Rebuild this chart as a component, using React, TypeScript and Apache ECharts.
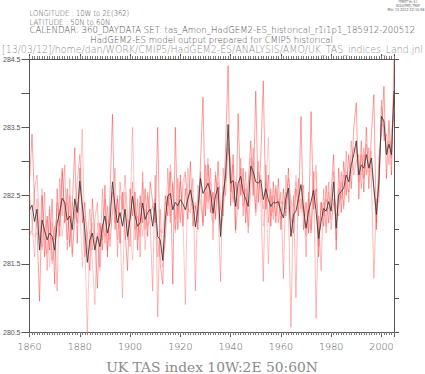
import React, { useEffect, useRef } from "react";
import * as echarts from "echarts";

const START_YEAR = 1860;
const END_YEAR = 2005;

const ensembleMean = [
  282.29, 282.36, 282.12, 282.30, 281.70, 282.14, 281.99, 281.85, 281.95, 281.90,
  281.70, 282.10, 282.25, 282.46, 282.40, 282.14, 282.20, 282.00, 282.45, 282.25,
  282.71, 282.35, 282.00, 281.52, 281.85, 281.95, 281.70, 281.90, 281.75, 282.05,
  282.20, 281.95, 282.10, 282.70, 282.34, 282.10, 282.25, 282.05, 282.30, 281.90,
  282.15, 282.49, 282.20, 282.05, 282.10, 282.39, 282.15, 282.25, 282.30, 282.05,
  282.39, 281.90, 281.85, 281.55, 282.14, 282.49, 282.53, 282.29, 282.40, 282.35,
  282.44, 282.38, 282.29, 282.45, 282.58, 282.38, 282.04, 282.30, 282.75, 282.53,
  282.60, 282.68, 282.55, 282.24, 282.50, 282.62, 281.90, 282.48, 282.80, 283.54,
  282.68, 282.72, 282.34, 282.68, 282.78, 282.55, 282.45, 282.34, 282.93, 282.85,
  282.70, 282.68, 282.73, 282.44, 282.60, 282.44, 282.34, 282.40, 282.39, 282.41,
  282.27, 282.17, 282.46, 282.61, 281.90, 282.22, 282.27, 282.46, 282.66, 282.31,
  282.02, 282.27, 282.41, 282.58, 282.27, 281.87, 282.12, 282.31, 282.27, 282.41,
  282.27, 282.70, 282.02, 282.51, 282.56, 282.61, 282.80, 282.70, 282.95, 283.10,
  283.30, 282.80, 282.95, 282.90, 283.10, 282.90, 283.05, 282.61, 282.22, 282.70,
  283.66, 283.59, 283.10, 283.25, 283.10, 284.03,
];

const memberR1 = [
  282.70, 283.40, 282.40, 282.00, 280.95, 282.50, 281.60, 282.20, 281.70, 282.45,
  281.20, 282.60, 281.90, 282.90, 282.10, 282.60, 281.75, 282.35, 283.20, 281.80,
  282.90, 282.10, 282.40, 281.75, 281.40, 282.45, 281.90, 281.14, 282.10, 281.70,
  282.65, 281.60, 282.50, 283.69, 282.00, 282.45, 281.80, 282.55, 282.00, 281.40,
  282.60, 282.20, 282.55, 281.70, 282.50, 282.10, 282.60, 281.90, 282.70, 282.40,
  282.10, 283.50, 281.50, 281.20, 282.50, 282.20, 282.85, 281.20, 283.50, 282.00,
  282.80, 282.05, 282.60, 282.15, 283.00, 282.05, 282.35, 282.00, 282.95, 283.94,
  282.20, 282.95, 282.25, 282.55, 282.15, 283.00, 282.30, 282.20, 283.20, 284.40,
  282.35, 283.10, 282.00, 283.70, 282.50, 282.90, 282.10, 282.65, 283.30, 282.50,
  284.03, 282.40, 283.05, 284.18, 282.30, 282.80, 282.05, 282.70, 282.10, 282.75,
  282.00, 282.60, 282.20, 282.90, 282.20, 281.95, 282.60, 282.20, 283.66, 282.00,
  282.40, 281.95, 283.73, 282.30, 282.60, 281.60, 282.40, 282.05, 282.65, 282.10,
  282.55, 283.10, 281.70, 282.90, 282.25, 283.00, 282.50, 283.10, 282.60, 283.50,
  283.86, 282.45, 283.30, 282.55, 283.50, 282.60, 283.40, 283.98, 282.00, 283.05,
  283.40, 284.10, 282.75, 283.60, 282.80, 284.50,
];

const memberR2 = [
  281.90, 282.00, 282.60, 282.80, 282.10, 281.75, 282.55, 281.40, 282.30, 281.55,
  282.05, 281.10, 282.75, 282.20, 282.95, 281.70, 282.50, 281.60, 282.15, 282.70,
  283.10, 282.40, 281.60, 281.90, 282.30, 281.70, 282.15, 282.40, 281.45, 282.60,
  281.80, 282.35, 281.75, 282.30, 282.90, 281.60, 282.70, 282.30, 282.80, 282.20,
  281.75, 282.70, 281.85, 282.45, 281.60, 282.85, 282.00, 282.55, 282.10, 281.10,
  282.80, 280.72, 282.30, 281.60, 281.80, 282.90, 282.10, 282.70, 282.00, 282.75,
  282.10, 282.70, 282.85, 282.30, 282.25, 282.75, 281.10, 282.65, 282.40, 282.10,
  282.95, 282.40, 282.90, 281.85, 282.80, 282.35, 281.24, 282.90, 282.50, 283.20,
  283.00, 282.40, 282.70, 282.30, 283.05, 282.20, 282.85, 281.95, 282.60, 283.20,
  282.30, 283.00, 282.45, 281.24, 282.95, 282.10, 282.60, 282.15, 282.65, 282.10,
  282.55, 281.28, 282.80, 282.35, 280.57, 282.50, 281.00, 282.75, 282.30, 282.65,
  281.60, 282.55, 282.00, 282.85, 280.70, 282.20, 281.40, 282.60, 281.95, 282.70,
  282.00, 282.45, 282.35, 282.20, 282.85, 282.30, 283.15, 282.40, 283.30, 282.80,
  283.00, 283.10, 282.60, 283.20, 282.80, 283.20, 282.75, 281.29, 282.45, 282.40,
  283.90, 283.30, 283.40, 282.95, 283.45, 283.70,
];

const memberR3 = [
  282.55, 282.10, 281.60, 282.45, 281.85, 282.60, 281.80, 281.65, 282.35, 281.50,
  281.70, 282.40, 282.05, 282.85, 282.30, 281.85, 282.75, 281.65, 282.30, 282.10,
  282.55, 283.47, 281.80, 280.48, 282.00, 281.55, 280.90, 282.10, 282.05, 281.85,
  282.45, 281.70, 282.30, 282.55, 282.10, 282.50, 282.00, 281.00, 282.55, 281.85,
  282.20, 283.50, 282.00, 282.20, 281.90, 282.70, 281.70, 282.50, 282.25, 282.35,
  282.45, 281.60, 282.00, 281.95, 282.40, 282.35, 282.95, 282.60, 282.15, 282.30,
  282.70, 282.20, 280.90, 282.90, 282.45, 282.30, 282.40, 282.10, 282.85, 282.05,
  282.70, 283.05, 282.35, 282.10, 282.85, 282.45, 282.05, 282.60, 282.75, 283.30,
  282.55, 282.95, 281.95, 282.40, 282.90, 282.35, 282.60, 282.05, 283.05, 282.70,
  282.25, 282.85, 282.60, 282.30, 282.70, 281.50, 282.50, 282.25, 282.60, 282.35,
  282.40, 282.40, 282.30, 282.75, 282.45, 282.10, 282.70, 282.40, 282.45, 282.25,
  281.90, 282.45, 281.95, 282.70, 282.95, 281.75, 282.40, 282.20, 282.45, 282.30,
  282.40, 282.85, 281.85, 282.60, 282.45, 282.80, 282.70, 282.55, 283.05, 283.20,
  283.15, 282.70, 283.10, 282.75, 283.25, 282.95, 282.90, 282.60, 282.10, 282.80,
  283.55, 283.50, 283.15, 283.30, 283.05, 284.10,
];

const memberR4 = [
  282.00, 281.95, 281.90, 281.95, 281.90, 281.70, 282.00, 282.15, 281.45, 282.10,
  281.85, 282.30, 282.30, 281.90, 282.25, 282.40, 281.80, 282.40, 282.15, 282.40,
  282.30, 281.45, 282.20, 281.95, 281.70, 282.10, 281.75, 281.95, 281.40, 282.05,
  281.90, 282.15, 281.85, 282.25, 282.35, 281.85, 282.50, 282.35, 281.85, 282.15,
  282.05, 281.55, 282.40, 281.85, 282.40, 281.90, 282.30, 282.05, 282.15, 282.35,
  282.20, 281.80, 281.60, 281.45, 281.85, 282.50, 282.20, 282.65, 281.95, 282.35,
  282.15, 282.55, 282.80, 282.45, 282.60, 282.40, 282.30, 282.45, 282.80, 282.05,
  282.55, 282.30, 282.70, 282.45, 282.20, 282.70, 282.00, 282.20, 282.75, 283.25,
  282.80, 282.45, 282.70, 282.30, 282.65, 282.75, 282.25, 282.70, 282.75, 283.00,
  282.20, 282.45, 282.80, 282.05, 282.45, 283.35, 282.20, 282.50, 282.20, 282.45,
  282.15, 282.40, 282.55, 282.45, 282.40, 282.35, 282.80, 282.50, 282.25, 282.35,
  282.20, 282.15, 281.95, 282.45, 282.85, 281.95, 282.30, 282.40, 282.05, 282.55,
  282.15, 282.40, 282.20, 282.35, 282.70, 282.35, 282.85, 282.75, 282.85, 282.90,
  283.20, 282.95, 282.80, 283.10, 282.85, 282.85, 283.15, 282.57, 282.35, 282.55,
  283.80, 283.45, 283.10, 283.15, 283.10, 283.80,
];

const yLabelValues = ["280.5", "281.5", "282.5", "283.5", "284.5"];
const xLabelValues = ["1860", "1880", "1900", "1920", "1940", "1960", "1980", "2000"];

const headerLines = [
  "LONGITUDE : 10W to 2E(362)",
  "LATITUDE : 50N to 60N",
  "CALENDAR: 360_DAYDATA SET: tas_Amon_HadGEM2-ES_historical_r1i1p1_185912-200512",
];
const subTitle = "HadGEM2-ES model output prepared for CMIP5 historical";
const jnlPath = "[13/03/12]/home/dan/WORK/CMIP5/HadGEM2-ES/ANALYSIS/AMO/UK_TAS_indices_Land.jnl";
const stampLines = ["FERRET Ver. 6.1", "NOAA/PMEL TMAP", "Mar 13 2012 22:10:58"];
const bottomTitle = "UK TAS index 10W:2E 50:60N";

function toPairs(vals: number[]) {
  return vals.map((v, i) => [START_YEAR + i, v]);
}

export default function App() {
  const ref = useRef<HTMLDivElement>(null);
  useEffect(() => {
    if (!ref.current) return;
    const chart = echarts.init(ref.current, null, { renderer: "svg" });
    const canvas = document.createElement("canvas");
    const ctx = canvas.getContext("2d") as CanvasRenderingContext2D;
    const measure = (t: string, size: number, fam: string, weight: string) => {
      ctx.font = `${weight} ${size}px ${fam}`;
      return ctx.measureText(t).width || 1;
    };
    const txt = (
      t: string, x: number, y: number, size: number, fam: string,
      targetW: number, fill: string, align: string = "left", weight: string = "normal"
    ) => ({
      type: "text",
      x, y,
      scaleX: targetW / measure(t, size, fam, weight),
      silent: true,
      style: {
        text: t, fontSize: size, fontFamily: fam, fill, fontWeight: weight,
        textAlign: align, textVerticalAlign: "middle",
      },
    });
    const sans = '"DejaVu Sans"';
    const head = "#4a4a4a";
    const graphics = [
      txt(headerLines[0], 29.5, 13.5, 8, sans, 100, head, "left", "200"),
      txt(headerLines[1], 29.5, 22.5, 8, sans, 81, head, "left", "200"),
      txt(headerLines[2], 29.5, 30.5, 8, sans, 386, head, "left", "200"),
      txt(subTitle, 211.5, 40, 8, sans, 243, head, "center", "200"),
      txt(jnlPath, 2, 48.5, 11, sans, 421, "#8f8f8f", "left", "200"),
      txt(stampLines[0], 408, 2, 4, sans, 19, "#666", "center"),
      txt(stampLines[1], 408, 6, 4, sans, 24, "#666", "center"),
      txt(stampLines[2], 406, 10, 4, sans, 37, "#666", "center"),
      txt(bottomTitle, 212, 368, 13, '"DejaVu Serif"', 212, "#8a8a8a", "center"),
    ];
    const axisColor = "#555";
    const xBase = {
      type: "value", min: START_YEAR, max: END_YEAR, gridIndex: 0,
      splitLine: { show: false },
      axisLine: { show: true, onZero: false, lineStyle: { color: axisColor, width: 1 } },
    };
    const redLine = (name: string, vals: number[], color: string) => ({
      name, type: "line", data: toPairs(vals), showSymbol: false, symbol: "none",
      xAxisIndex: 0, yAxisIndex: 0,
      lineStyle: { color, width: 1 }, z: 2,
    });
    const option: any = {
      animation: false,
      backgroundColor: "#ffffff",
      grid: { left: 28, right: 31, top: 59, bottom: 42, containLabel: false },
      graphic: graphics,
      xAxis: [
        {
          ...xBase, position: "bottom", interval: 20,
          axisTick: { show: true, length: 5, lineStyle: { color: axisColor } },
          axisLabel: {
            show: true, margin: 9, color: "#555", fontSize: 9.5, fontFamily: "DejaVu Sans",
            fontWeight: 200,
            formatter: (v: number) => (xLabelValues.includes(String(v)) ? String(v) : ""),
          },
        },
        {
          ...xBase, position: "bottom", interval: 1,
          axisLine: { show: false },
          axisTick: { show: true, length: 3, lineStyle: { color: "#777" } },
          axisLabel: { show: false },
        },
        {
          ...xBase, position: "top", interval: 20,
          axisTick: { show: true, length: 5, lineStyle: { color: axisColor } },
          axisLabel: { show: false },
        },
        {
          ...xBase, position: "top", interval: 1,
          axisLine: { show: false },
          axisTick: { show: true, length: 3, lineStyle: { color: "#777" } },
          axisLabel: { show: false },
        },
      ],
      yAxis: [
        {
          type: "value", position: "left", min: 280.5, max: 284.5, interval: 0.5,
          splitLine: { show: false },
          axisLine: { show: true, onZero: false, lineStyle: { color: axisColor, width: 1 } },
          axisTick: { show: true, length: 8, lineStyle: { color: axisColor } },
          axisLabel: {
            show: true, margin: 9, color: "#555", fontSize: 7, fontFamily: "Liberation Sans",
            formatter: (v: number) => {
              const s = v.toFixed(1);
              return yLabelValues.includes(s) ? s : "";
            },
          },
        },
        {
          type: "value", position: "right", min: 280.5, max: 284.5, interval: 0.5,
          splitLine: { show: false },
          axisLine: { show: true, onZero: false, lineStyle: { color: axisColor, width: 1 } },
          axisTick: { show: true, length: 5, lineStyle: { color: axisColor } },
          axisLabel: { show: false },
        },
      ],
      series: [
        redLine("r4", memberR4, "rgba(255,140,140,0.4)"),
        redLine("r3", memberR3, "rgba(255,110,110,0.4)"),
        redLine("r2", memberR2, "rgba(255,70,70,0.38)"),
        redLine("r1", memberR1, "rgba(255,20,20,0.4)"),
        {
          name: "mean", type: "line", data: toPairs(ensembleMean), showSymbol: false, symbol: "none",
          xAxisIndex: 0, yAxisIndex: 0, z: 3,
          lineStyle: { color: "#333333", width: 1, opacity: 0.85 },
        },
      ],
    };
    chart.setOption(option);
    return () => chart.dispose();
  }, []);
  return (
    <div
      ref={ref}
      style={{ position: "fixed", left: 0, top: 0, width: 425, height: 374, background: "#fff" }}
    />
  );
}
